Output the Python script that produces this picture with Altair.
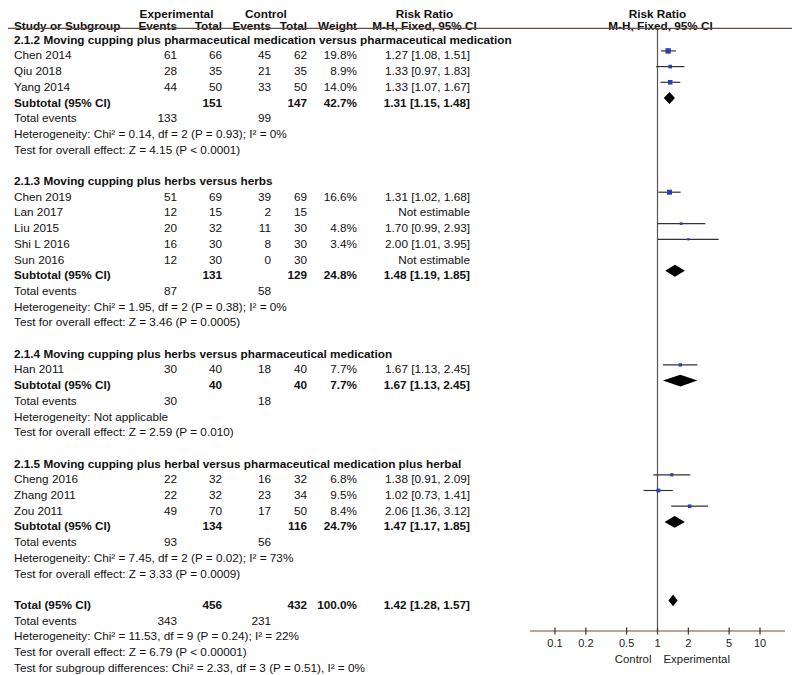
import altair as alt
import pandas as pd

# ---------------- table data ----------------
row_pos = [2, 3, 4, 5, 6, 7, 8, 9,
           11, 12, 13, 14, 15, 16, 17, 18, 19, 20,
           22, 23, 24, 25, 26, 27,
           29, 30, 31, 32, 33, 34, 35, 36,
           38, 39, 40, 41, 42]

labels = [
    "2.1.2 Moving cupping plus pharmaceutical medication versus pharmaceutical medication",
    "Chen 2014", "Qiu 2018", "Yang 2014", "Subtotal (95% CI)", "Total events",
    "Heterogeneity: Chi² = 0.14, df = 2 (P = 0.93); I² = 0%",
    "Test for overall effect: Z = 4.15 (P < 0.0001)",
    "2.1.3 Moving cupping plus herbs versus herbs",
    "Chen 2019", "Lan 2017", "Liu 2015", "Shi L 2016", "Sun 2016", "Subtotal (95% CI)", "Total events",
    "Heterogeneity: Chi² = 1.95, df = 2 (P = 0.38); I² = 0%",
    "Test for overall effect: Z = 3.46 (P = 0.0005)",
    "2.1.4 Moving cupping plus herbs versus pharmaceutical medication",
    "Han 2011", "Subtotal (95% CI)", "Total events",
    "Heterogeneity: Not applicable",
    "Test for overall effect: Z = 2.59 (P = 0.010)",
    "2.1.5 Moving cupping plus herbal versus pharmaceutical medication plus herbal",
    "Cheng 2016", "Zhang 2011", "Zou 2011", "Subtotal (95% CI)", "Total events",
    "Heterogeneity: Chi² = 7.45, df = 2 (P = 0.02); I² = 73%",
    "Test for overall effect: Z = 3.33 (P = 0.0009)",
    "Total (95% CI)", "Total events",
    "Heterogeneity: Chi² = 11.53, df = 9 (P = 0.24); I² = 22%",
    "Test for overall effect: Z = 6.79 (P < 0.00001)",
    "Test for subgroup differences: Chi² = 2.33, df = 3 (P = 0.51), I² = 0%",
]

exp_events = ["", "61", "28", "44", "", "133", "", "",
              "", "51", "12", "20", "16", "12", "", "87", "", "",
              "", "30", "", "30", "", "",
              "", "22", "22", "49", "", "93", "", "",
              "", "343", "", "", ""]
exp_total = ["", "66", "35", "50", "151", "", "", "",
             "", "69", "15", "32", "30", "30", "131", "", "", "",
             "", "40", "40", "", "", "",
             "", "32", "32", "70", "134", "", "", "",
             "456", "", "", "", ""]
ctl_events = ["", "45", "21", "33", "", "99", "", "",
              "", "39", "2", "11", "8", "0", "", "58", "", "",
              "", "18", "", "18", "", "",
              "", "16", "23", "17", "", "56", "", "",
              "", "231", "", "", ""]
ctl_total = ["", "62", "35", "50", "147", "", "", "",
             "", "69", "15", "30", "30", "30", "129", "", "", "",
             "", "40", "40", "", "", "",
             "", "32", "34", "50", "116", "", "", "",
             "432", "", "", "", ""]
weight_txt = ["", "19.8%", "8.9%", "14.0%", "42.7%", "", "", "",
              "", "16.6%", "", "4.8%", "3.4%", "", "24.8%", "", "", "",
              "", "7.7%", "7.7%", "", "", "",
              "", "6.8%", "9.5%", "8.4%", "24.7%", "", "", "",
              "100.0%", "", "", "", ""]
rr_txt = ["", "1.27 [1.08, 1.51]", "1.33 [0.97, 1.83]", "1.33 [1.07, 1.67]", "1.31 [1.15, 1.48]", "", "", "",
          "", "1.31 [1.02, 1.68]", "Not estimable", "1.70 [0.99, 2.93]", "2.00 [1.01, 3.95]", "Not estimable",
          "1.48 [1.19, 1.85]", "", "", "",
          "", "1.67 [1.13, 2.45]", "1.67 [1.13, 2.45]", "", "", "",
          "", "1.38 [0.91, 2.09]", "1.02 [0.73, 1.41]", "2.06 [1.36, 3.12]", "1.47 [1.17, 1.85]", "", "", "",
          "1.42 [1.28, 1.57]", "", "", "", ""]
bold_rows = [2, 6, 11, 17, 22, 24, 29, 33, 38]

# ---------------- forest data ----------------
study_rows = [3, 4, 5, 12, 14, 15, 23, 30, 31, 32]
study_rr = [1.27, 1.33, 1.33, 1.31, 1.70, 2.00, 1.67, 1.38, 1.02, 2.06]
study_lo = [1.08, 0.97, 1.07, 1.02, 0.99, 1.01, 1.13, 0.91, 0.73, 1.36]
study_hi = [1.51, 1.83, 1.67, 1.68, 2.93, 3.95, 2.45, 2.09, 1.41, 3.12]
study_w = [19.8, 8.9, 14.0, 16.6, 4.8, 3.4, 7.7, 6.8, 9.5, 8.4]

pooled_rows = [6, 17, 24, 33, 38]
pooled_rr = [1.31, 1.48, 1.67, 1.47, 1.42]
pooled_lo = [1.15, 1.19, 1.13, 1.17, 1.28]
pooled_hi = [1.48, 1.85, 2.45, 1.85, 1.57]

tick_vals = [0.1, 0.2, 0.5, 1, 2, 5, 10]
tick_labels = ["0.1", "0.2", "0.5", "1", "2", "5", "10"]

# ---------------- layout / style ----------------
W, H = 784, 667
FONT = "Liberation Sans"
FS = 11.75
TXT = "#111111"
LINE_BROWN = "#6e4a3e"
TDY = 4.5  # text offset below row centre of forest marks
X_SCALE = alt.Scale(type="log", domain=[0.1, 10], range=[547, 752])
Y_SCALE = alt.Scale(domain=[0, 42], range=[-4.2, 655.2])
HEAD0, HEAD1 = 0.36, 1.13
UNDER_ROW = 1.57
AXIS_ROW = 39.95
TICKLAB_ROW = 40.52
SIDE_ROW = 41.48
AXIS_MIN, AXIS_MAX = 0.057, 17.5
DIA_H = 0.38

tbl = pd.DataFrame({
    "row": row_pos, "label": labels, "ee": exp_events, "et": exp_total,
    "ce": ctl_events, "ct": ctl_total, "w": weight_txt, "rr": rr_txt,
    "bold": [r in bold_rows for r in row_pos],
})
studies = pd.DataFrame({"row": study_rows, "rr": study_rr, "lo": study_lo,
                        "hi": study_hi, "w": study_w})
dia_recs = []
for i, (r, e, lo, hi) in enumerate(zip(pooled_rows, pooled_rr, pooled_lo, pooled_hi)):
    dia_recs += [
        {"id": i, "x": lo, "y": r, "y2": r},
        {"id": i, "x": e, "y": r - DIA_H, "y2": r + DIA_H},
        {"id": i, "x": hi, "y": r, "y2": r},
    ]
dia = pd.DataFrame(dia_recs)
ticks = pd.DataFrame({"t": tick_vals, "lab": tick_labels})
ONE = pd.DataFrame({"k": [0]})

layers = []

# table columns
cols = [("label", 6, "left"), ("ee", 169, "right"), ("et", 214, "right"),
        ("ce", 263, "right"), ("ct", 299, "right"), ("w", 349, "right"),
        ("rr", 462, "right")]
for field, xpx, al in cols:
    for b in (False, True):
        layers.append(
            alt.Chart(tbl)
            .transform_filter("datum.bold" if b else "!datum.bold")
            .mark_text(align=al, baseline="middle", font=FONT, fontSize=FS, dy=TDY,
                       fontWeight="bold" if b else "normal", color=TXT)
            .encode(x=alt.value(xpx),
                    y=alt.Y("row:Q", scale=Y_SCALE, axis=None),
                    text=f"{field}:N")
        )

# headers
def head(txt, xpx, row, al):
    return (alt.Chart(ONE)
            .mark_text(text=txt, align=al, baseline="middle", font=FONT, fontSize=FS,
                       fontWeight="bold", color=TXT, dy=TDY)
            .encode(x=alt.value(xpx), y=alt.YDatum(row, scale=Y_SCALE, axis=None)))

layers += [
    head("Experimental", 168.5, HEAD0, "center"),
    head("Control", 258, HEAD0, "center"),
    head("Risk Ratio", 416.5, HEAD0, "center"),
    head("Study or Subgroup", 6, HEAD1, "left"),
    head("Events", 169, HEAD1, "right"),
    head("Total", 214, HEAD1, "right"),
    head("Events", 263, HEAD1, "right"),
    head("Total", 299, HEAD1, "right"),
    head("Weight", 349, HEAD1, "right"),
    head("M-H, Fixed, 95% CI", 416.5, HEAD1, "center"),
]
for txt, row, dx in [("Risk Ratio", HEAD0, 0), ("M-H, Fixed, 95% CI", HEAD1, 3)]:
    layers.append(
        alt.Chart(ONE)
        .mark_text(text=txt, align="center", baseline="middle", font=FONT, fontSize=FS,
                   fontWeight="bold", color=TXT, dx=dx, dy=TDY)
        .encode(x=alt.XDatum(1, scale=X_SCALE, axis=None),
                y=alt.YDatum(row, scale=Y_SCALE, axis=None))
    )

# header underline
layers.append(
    alt.Chart(ONE).mark_rule(color=LINE_BROWN, strokeWidth=1.2)
    .encode(x=alt.value(0), x2=alt.value(W), y=alt.YDatum(UNDER_ROW, scale=Y_SCALE, axis=None))
)

# null line
layers.append(
    alt.Chart(ONE).mark_rule(color="#555555", strokeWidth=1.2)
    .encode(x=alt.XDatum(1, scale=X_SCALE, axis=None),
            y=alt.YDatum(UNDER_ROW, scale=Y_SCALE, axis=None),
            y2=alt.Y2Datum(AXIS_ROW))
)

# axis line
layers.append(
    alt.Chart(ONE).mark_rule(color=LINE_BROWN, strokeWidth=1.2)
    .encode(x=alt.XDatum(AXIS_MIN, scale=X_SCALE, axis=None),
            x2=alt.X2Datum(AXIS_MAX),
            y=alt.YDatum(AXIS_ROW, scale=Y_SCALE, axis=None))
)
# ticks
layers.append(
    alt.Chart(ticks).mark_rule(color="#333333", strokeWidth=1.2)
    .encode(x=alt.X("t:Q", scale=X_SCALE, axis=None),
            y=alt.YDatum(AXIS_ROW - 0.22, scale=Y_SCALE, axis=None),
            y2=alt.Y2Datum(AXIS_ROW + 0.22))
)
layers.append(
    alt.Chart(ticks).mark_text(baseline="middle", align="center", font=FONT, fontSize=11,
                               color="#222222", dy=TDY)
    .encode(x=alt.X("t:Q", scale=X_SCALE, axis=None),
            y=alt.YDatum(TICKLAB_ROW, scale=Y_SCALE, axis=None),
            text="lab:N")
)
for txt, al, dx in [("Control", "right", -6), ("Experimental", "left", 6)]:
    layers.append(
        alt.Chart(ONE).mark_text(text=txt, align=al, dx=dx, dy=TDY, baseline="middle", font=FONT,
                                 fontSize=11.4, color="#222222")
        .encode(x=alt.XDatum(1, scale=X_SCALE, axis=None),
                y=alt.YDatum(SIDE_ROW, scale=Y_SCALE, axis=None))
    )

# study CIs and squares
layers.append(
    alt.Chart(studies).mark_rule(color="#333333", strokeWidth=1.2)
    .encode(x=alt.X("lo:Q", scale=X_SCALE, axis=None), x2="hi:Q",
            y=alt.Y("row:Q", scale=Y_SCALE, axis=None))
)
layers.append(
    alt.Chart(studies).mark_square(color="#2b3fb5", opacity=1)
    .encode(x=alt.X("rr:Q", scale=X_SCALE, axis=None),
            y=alt.Y("row:Q", scale=Y_SCALE, axis=None),
            size=alt.Size("w:Q", scale=alt.Scale(domain=[0, 20], range=[0, 30]), legend=None))
)

# pooled diamonds
layers.append(
    alt.Chart(dia).mark_area(color="black", orient="vertical", interpolate="linear")
    .encode(x=alt.X("x:Q", scale=X_SCALE, axis=None),
            y=alt.Y("y:Q", scale=Y_SCALE, axis=None, stack=None),
            y2="y2:Q",
            detail="id:N")
)

chart = (
    alt.layer(*layers)
    .properties(width=W, height=H, padding=0, autosize="none")
    .configure_view(stroke=None)
)

chart.save("out.html", embed_options={"renderer": "svg", "actions": False})
